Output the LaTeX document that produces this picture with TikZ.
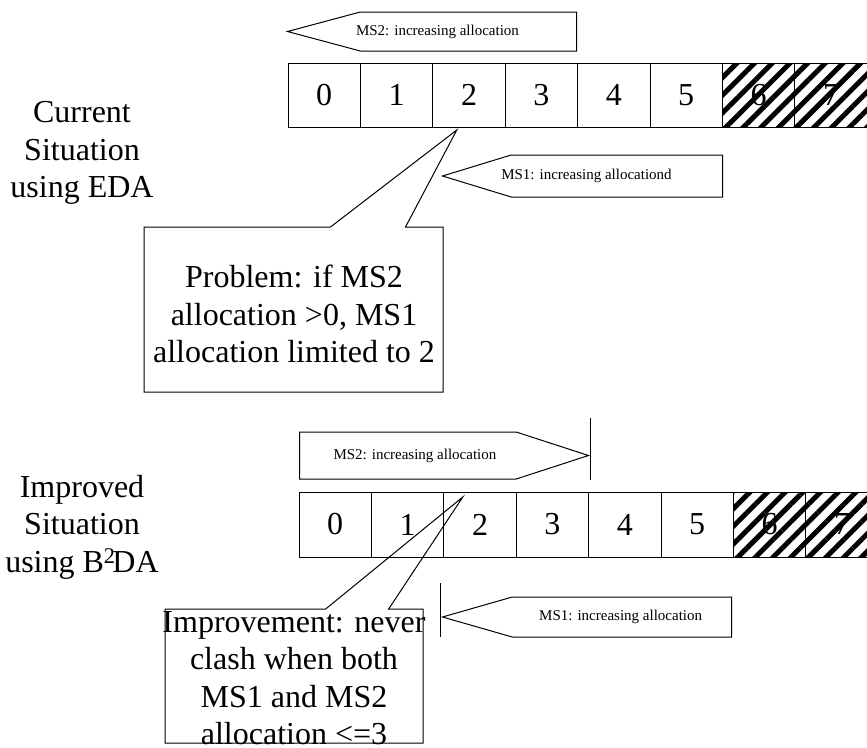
\documentclass[tikz,border=0pt]{standalone}
\usepackage{fontspec}
\setmainfont{Liberation Serif}
\usetikzlibrary{positioning,shapes.symbols,shapes.callouts,patterns.meta}
\newcommand{\diagbig}{\fontsize{32}{37.5}\selectfont}
\newcommand{\diagsmall}{\fontsize{15}{18}\selectfont}

\begin{document}
\begin{tikzpicture}[
  x=1pt, y=-1pt,
  line width=1pt,
  cell/.style={draw, minimum width=72.4pt, minimum height=64pt, inner sep=0pt, outer sep=0pt, font=\diagbig},
  busy/.style={cell, pattern={Lines[angle=45, distance=12.5pt, line width=5pt]}},
  alloc/.style={draw, signal, signal pointer angle=32, minimum height=40pt, minimum width=289pt, inner sep=0pt},
  alloctext/.style={inner sep=0pt, font=\diagsmall},
  note/.style={draw, rectangle callout, inner sep=0pt},
  sitlabel/.style={align=center, font=\diagbig},
  notetext/.style={align=center, font=\diagbig}
]
\useasboundingbox (0,0) rectangle (867,747);

% current situation
\node[alloc, signal to=west, anchor=east, minimum height=39pt, signal pointer angle=30] (ms2a) at (577,31.5) {};
\node[alloctext, right=70pt of ms2a.west] (ms2atxt) {MS2: increasing allocation};
\node[cell, anchor=north west] (a0) at (288,63) {0};
\node[cell, right=0pt of a0] (a1) {1};
\node[cell, right=0pt of a1] (a2) {2};
\node[cell, right=0pt of a2] (a3) {3};
\node[cell, right=0pt of a3] (a4) {4};
\node[cell, right=0pt of a4] (a5) {5};
\node[busy, right=0pt of a5] (a6) {6};
\node[busy, right=0pt of a6] (a7) {7};
\node[alloc, signal to=west, anchor=east, minimum width=280pt, minimum height=42pt, signal pointer angle=34] (ms1a) at (723,176) {};
\node[alloctext, right=60pt of ms1a.west] (ms1atxt) {MS1: increasing allocationd};
\node[sitlabel] (cur) at (82,153) {Current\\Situation\\using EDA};
\node[note, minimum width=299pt, minimum height=165pt, callout pointer width=75pt,
  callout absolute pointer={([xshift=24pt,yshift=-3pt]a2.south west)}] (prob) at (293.5,309.5) {};
\node[notetext] (probtxt) at (294,314) {Problem: if MS2\\allocation >0, MS1\\allocation limited to 2};

% improved situation
\node[alloc, signal to=east, anchor=west, minimum height=47pt, signal pointer angle=36] (ms2b) at (299,455.5) {};
\node[alloctext, right=34pt of ms2b.west] (ms2btxt) {MS2: increasing allocation};
\draw ([yshift=38pt]ms2b.east) -- ([yshift=-24pt]ms2b.east);
\node[cell, anchor=north west, minimum height=65pt] (b0) at (299,492) {0};
\node[cell, minimum height=65pt, right=0pt of b0] (b1) {1};
\node[cell, minimum height=65pt, right=0pt of b1] (b2) {2};
\node[cell, minimum height=65pt, right=0pt of b2] (b3) {3};
\node[cell, minimum height=65pt, right=0pt of b3] (b4) {4};
\node[cell, minimum height=65pt, right=0pt of b4] (b5) {5};
\node[busy, minimum height=65pt, right=0pt of b5] (b6) {6};
\node[busy, minimum height=65pt, right=0pt of b6] (b7) {7};
\node[alloc, signal to=west, anchor=east, signal pointer angle=32] (ms1b) at (732,617) {};
\node[alloctext, right=98pt of ms1b.west] (ms1btxt) {MS1: increasing allocation};
\draw ([yshift=34pt]ms1b.west) -- ([yshift=-20pt]ms1b.west);
\node[sitlabel] (imp) at (82,527) {Improved\\Situation\\using B\textsuperscript{2}\kern-0.1emDA};
\node[note, minimum width=258pt, minimum height=134pt, callout pointer width=63pt,
  callout absolute pointer={([xshift=19pt,yshift=-5pt]b2.north west)}] (impr) at (294,676) {};
\node[notetext] (imprtxt) at (294,678) {Improvement: never\\clash when both\\MS1 and MS2\\allocation <=3};
\end{tikzpicture}
\end{document}
